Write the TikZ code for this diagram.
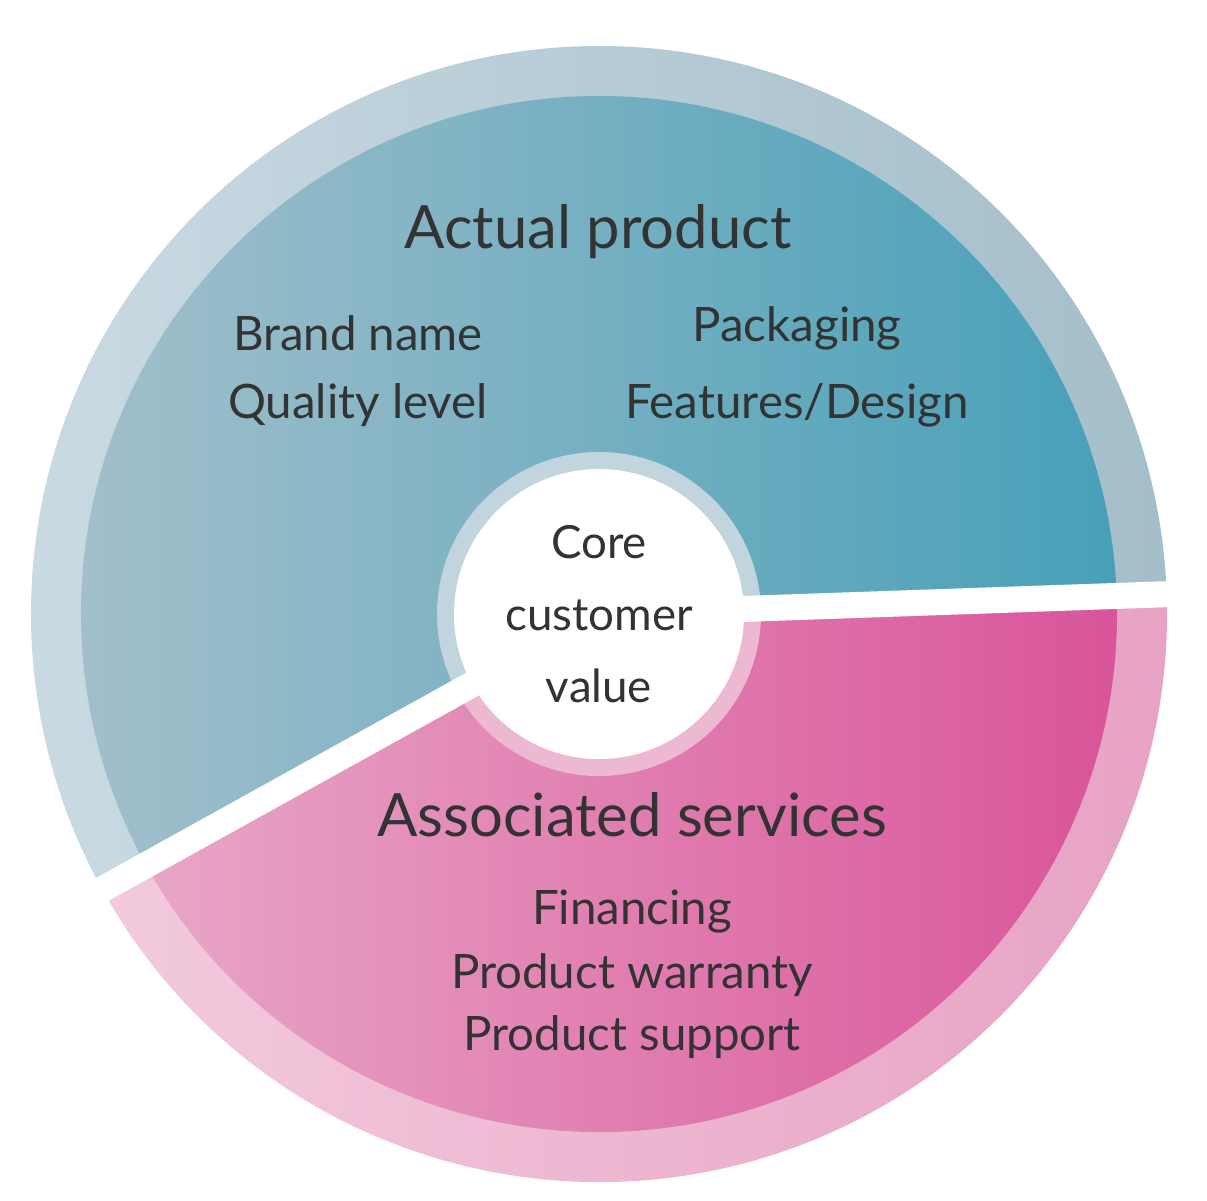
\documentclass[tikz,border=0pt]{standalone}
\usepackage{fontspec}
\setmainfont{Lato}
\usetikzlibrary{calc}
\begin{document}
\begin{tikzpicture}[head/.style={font=\fontsize{17}{20}\selectfont,text=black!80},
  item/.style={font=\fontsize{13.5}{16}\selectfont,text=black!80},
  gap/.style={white,line width=0.26cm}]
\definecolor{blueL}{HTML}{A3BFCB}\definecolor{blueR}{HTML}{47A0B8}
\definecolor{blueRingL}{HTML}{CADAE3}\definecolor{blueRingR}{HTML}{A4BECA}
\definecolor{pinkL}{HTML}{E8A6C6}\definecolor{pinkR}{HTML}{D9549A}
\definecolor{pinkRingL}{HTML}{F2CADD}\definecolor{pinkRingR}{HTML}{E7A2C3}
\useasboundingbox (0,0) rectangle (12.07,12);
\coordinate (c) at (5.99,5.86);
% outer rings
\shade[left color=blueRingL,right color=blueRingR] (c) -- ++(2:5.68) arc (2:209:5.68) -- cycle;
\shade[left color=pinkRingL,right color=pinkRingR] (c) -- ++(209:5.68) arc (209:362:5.68) -- cycle;
% sectors
\shade[left color=blueL,right color=blueR] (c) -- ++(2:5.18) arc (2:209:5.18) -- cycle;
\shade[left color=pinkL,right color=pinkR] (c) -- ++(209:5.18) arc (209:362:5.18) -- cycle;
% core ring
\fill[blueRingL!80!blueL] (c) -- ++(2:1.62) arc (2:209:1.62) -- cycle;
\fill[pinkL!80!white] (c) -- ++(209:1.62) arc (209:362:1.62) -- cycle;
% gaps
\coordinate (g1) at ($(c)+(2:5.8)$);
\coordinate (g2) at ($(c)+(209:5.8)$);
\draw[gap] (c) -- (g1);
\draw[gap] (c) -- (g2);
\fill[white] (c) circle (1.45);
% texts
\node[head] (actual) at (5.98,9.68) {Actual product};
\node[item] (brand) at (3.58,8.67) {Brand name};
\node[item] (quality) at (3.58,7.95) {Quality level};
\node[item] (pack) at (7.97,8.72) {Packaging};
\node[item] (feat) at (7.97,7.95) {Features/Design};
\node[item,align=center,font=\fontsize{13}{20.5}\selectfont] (core) at (c) {Core\\customer\\value};
\node[head] (assoc) at (6.32,3.85) {Associated services};
\node[item] (fin) at (6.32,2.88) {Financing};
\node[item] (warr) at (6.32,2.25) {Product warranty};
\node[item] (supp) at (6.32,1.63) {Product support};
\end{tikzpicture}
\end{document}
